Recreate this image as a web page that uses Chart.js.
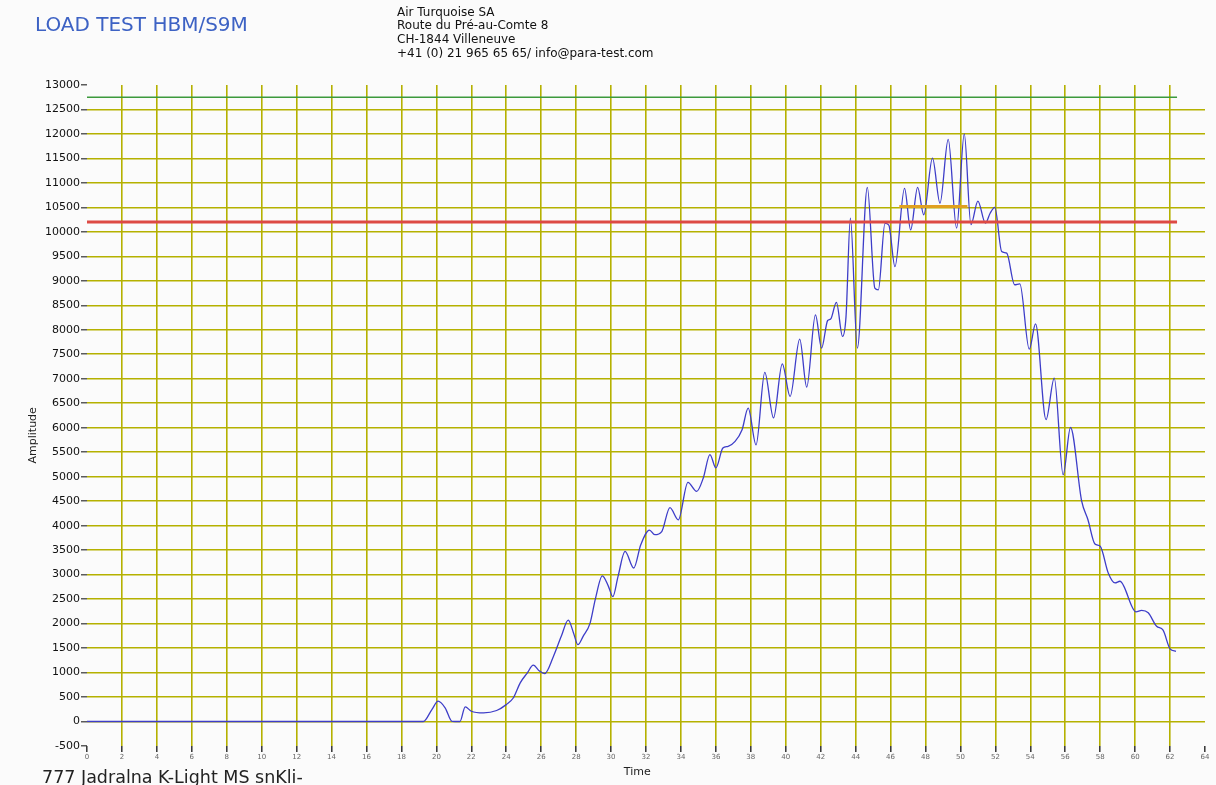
<!DOCTYPE html>
<html>
<head>
<meta charset="utf-8">
<script src="https://cdn.jsdelivr.net/npm/chart.js@4.4.1/dist/chart.umd.min.js"></script>
<style>
  html, body { margin:0; padding:0; background:#fbfbfb; }
  #wrap { position:relative; width:1216px; height:785px; overflow:hidden; font-family:"DejaVu Sans", Verdana, sans-serif; }
  #cv { position:absolute; left:0; top:0; }
  .t { position:absolute; white-space:nowrap; line-height:1; }
  #title { left:35px; top:14px; font-size:20px; color:#3d62c4; }
  #addr { left:397px; top:5.5px; font-size:12px; color:#111; line-height:13.9px; }
  #foot { left:42px; top:769px; font-size:17.5px; color:#222; }
</style>
</head>
<body>
<div id="wrap">
  <canvas id="cv" width="1216" height="785"></canvas>
  <div class="t" id="title">LOAD TEST HBM/S9M</div>
  <div class="t" id="addr">Air Turquoise SA<br>Route du Pré-au-Comte 8<br>CH-1844 Villeneuve<br>+41 (0) 21 965 65 65/ info@para-test.com</div>
  <div class="t" id="foot">777 Jadralna K-Light MS snKli-</div>
</div>
<script>
// ---- data ----
const timeValues = [0, 19.25, 19.75, 20.1, 20.5, 20.9, 21.35, 21.65, 22.0, 22.7, 23.45, 24.0, 24.4, 24.8, 25.2, 25.55, 25.9, 26.2, 26.7, 27.15, 27.55, 27.85, 28.1, 28.4, 28.8, 29.1, 29.5, 29.85, 30.1, 30.4, 30.8, 31.3, 31.7, 32.2, 32.5, 32.9, 33.37, 33.85, 34.4, 34.9, 35.28, 35.66, 36.0, 36.4, 36.7, 37.1, 37.5, 37.85, 38.3, 38.8, 39.3, 39.8, 40.25, 40.8, 41.2, 41.7, 42.05, 42.4, 42.57, 42.9, 43.25, 43.45, 43.7, 44.1, 44.67, 45.1, 45.3, 45.68, 45.9, 46.25, 46.8, 47.15, 47.55, 47.9, 48.4, 48.83, 49.3, 49.78, 50.22, 50.6, 51.0, 51.43, 51.7, 51.97, 52.36, 52.65, 53.1, 53.4, 53.94, 54.3, 54.9, 55.37, 55.88, 56.3, 56.94, 57.3, 57.7, 58.0, 58.46, 58.85, 59.13, 60.05, 60.37, 60.75, 61.23, 61.6, 62.0, 62.34];
const amplitudeValues = [0, 0, 250, 415, 280, 5, 0, 300, 210, 175, 225, 345, 480, 790, 990, 1150, 1030, 980, 1330, 1740, 2070, 1810, 1570, 1740, 2010, 2500, 2975, 2760, 2550, 2965, 3475, 3135, 3610, 3910, 3815, 3880, 4370, 4120, 4885, 4700, 4975, 5450, 5180, 5585, 5620, 5720, 5960, 6400, 5650, 7130, 6200, 7305, 6640, 7810, 6830, 8305, 7625, 8190, 8220, 8560, 7865, 8270, 10280, 7625, 10910, 8850, 8815, 10175, 10140, 9290, 10890, 10040, 10910, 10350, 11505, 10585, 11890, 10075, 12000, 10150, 10630, 10180, 10380, 10500, 9600, 9565, 8920, 8940, 7605, 8120, 6165, 7015, 5040, 6005, 4500, 4120, 3625, 3580, 3035, 2830, 2865, 2240, 2270, 2220, 1945, 1865, 1485, 1435];
const greenLimit = { from: 0, to: 62.4, value: 12750 };
const redLimit = { from: 0, to: 62.4, value: 10200 };
const orangeLimit = { from: 46.5, to: 50.4, value: 10520 };
const xMin = 0, xMax = 64, xStep = 2;
const yMin = -500, yMax = 13000, yStep = 500;
const xTitle = 'Time', yTitle = 'Amplitude';

const curve = timeValues.map((t, i) => ({ x: t, y: amplitudeValues[i] }));
const seg = l => [{ x: l.from, y: l.value }, { x: l.to, y: l.value }];

// axis titles drawn at the reference positions
const axisTitlePlugin = {
  id: 'axisTitles',
  afterDraw(chart) {
    const c = chart.ctx, a = chart.chartArea;
    c.save();
    c.font = '11px "DejaVu Sans"';
    c.fillStyle = '#222';
    c.textAlign = 'center';
    c.textBaseline = 'middle';
    c.fillText(xTitle, chart.scales.x.getPixelForValue(31.5), 772);
    c.translate(33, a.top + (a.bottom - a.top) * 0.53);
    c.rotate(-Math.PI / 2);
    c.fillText(yTitle, 0, 0);
    c.restore();
  }
};

const GRID = '#b5b100';
new Chart(document.getElementById('cv'), {
  type: 'line',
  data: {
    datasets: [
      { data: seg(greenLimit), borderColor: '#3c9a3c', borderWidth: 1.3, pointRadius: 0 },
      { data: seg(redLimit), borderColor: '#dd4a44', borderWidth: 3, pointRadius: 0 },
      { data: seg(orangeLimit), borderColor: '#e0a020', borderWidth: 3, pointRadius: 0 },
      { data: curve, borderColor: '#3d3dc8', borderWidth: 1.3, pointRadius: 0, cubicInterpolationMode: 'monotone' }
    ]
  },
  plugins: [axisTitlePlugin],
  options: {
    responsive: false,
    animation: false,
    events: [],
    layout: { padding: { left: 26, right: 11, top: 85, bottom: 0 } },
    plugins: { legend: { display: false }, tooltip: { enabled: false } },
    scales: {
      x: {
        type: 'linear', min: xMin, max: xMax,
        afterFit: s => { s.height = 39; },
        ticks: { stepSize: xStep, autoSkip: false, maxRotation: 0, padding: 1, color: '#666', font: { family: 'DejaVu Sans', size: 7 } },
        grid: { color: c => (c.tick && (c.tick.value === xMin || c.tick.value === xMax)) ? 'rgba(0,0,0,0)' : GRID, lineWidth: 1.6, tickLength: 6, tickColor: '#333', tickWidth: 1.5 },
        border: { display: false },
        title: { display: false }
      },
      y: {
        min: yMin, max: yMax,
        afterFit: s => { s.width = 61; },
        ticks: { stepSize: yStep, autoSkip: false, padding: 1, color: '#111', font: { family: 'DejaVu Sans', size: 11 }, callback: v => String(v) },
        grid: { color: c => (c.tick && (c.tick.value === yMin || c.tick.value === yMax)) ? 'rgba(0,0,0,0)' : GRID, lineWidth: 1.6, tickLength: 6, tickColor: '#333', tickWidth: 1.2 },
        border: { display: false },
        title: { display: false }
      }
    }
  }
});
</script>
</body>
</html>
